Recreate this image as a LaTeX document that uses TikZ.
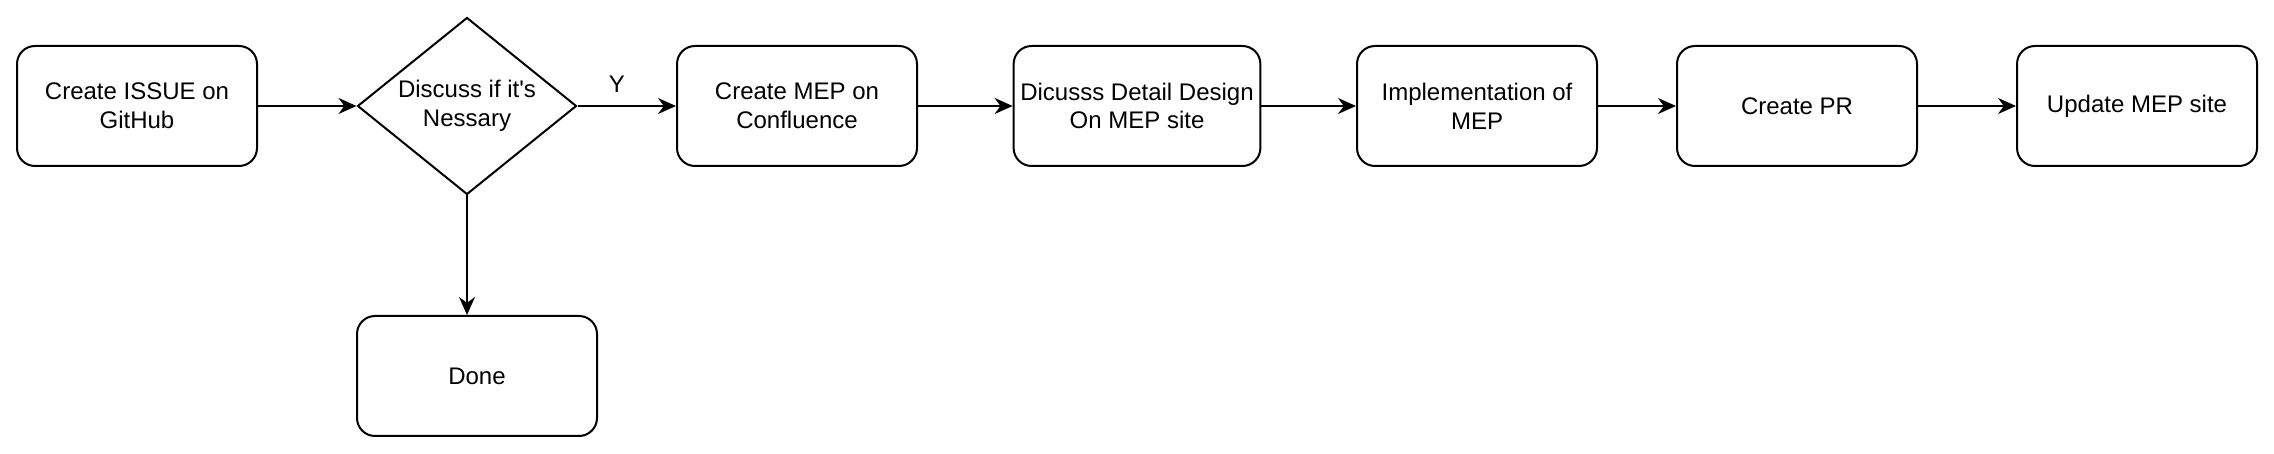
\documentclass[tikz,border=0pt]{standalone}
\usepackage{fontspec}
\setmainfont{Liberation Sans}
\usetikzlibrary{arrows.meta, shapes.geometric, positioning}
\tikzstyle{stage}=[rectangle, draw=black, rounded corners=9pt, minimum width=120pt, minimum height=60pt, align=center]
\tikzstyle{choice}=[diamond, draw=black, minimum width=109.5pt, minimum height=88.5pt, inner sep=0pt]

\begin{document}
\begin{tikzpicture}[node distance=165pt, line width=1pt, >={Stealth[length=9pt, width=8pt]}, font=\fontsize{12}{14.4}\selectfont]
      \useasboundingbox (0,0) rectangle (1137pt,227pt);
      \node[stage]  (issue)   at (68.5pt,174pt) {Create ISSUE on\\GitHub};
      \node[choice] (discuss) [right of=issue, label={[align=center]center:Discuss if it\textquotesingle s\\Nessary}] {};
      \node[stage]  (conf)    [right of=discuss] {Create MEP on\\Confluence};
      \node[stage]  (design)  [right of=conf, xshift=5pt] {Dicusss Detail Design\\On MEP site};
      \node[stage]  (impl)    [right of=design, xshift=5pt] {Implementation of\\MEP};
      \node[stage]  (pr)      [right of=impl, xshift=-5pt] {Create PR};
      \node[stage]  (update)  [right of=pr, xshift=5pt] {Update MEP site};

      \node[stage]  (done)    [below of=discuss, node distance=135pt, xshift=5pt] {Done};

      \draw[->] (issue) -- (discuss);
      \draw[->] (discuss) -- node[above, pos=0.4, yshift=3pt] {Y} (conf);
      \draw[->] (conf) -- (design);
      \draw[->] (design) -- (impl);
      \draw[->] (impl) -- (pr);
      \draw[->] (pr) -- (update);
      \draw[->] (discuss.south) -- (discuss.south |- done.north);
    \end{tikzpicture}
\end{document}
